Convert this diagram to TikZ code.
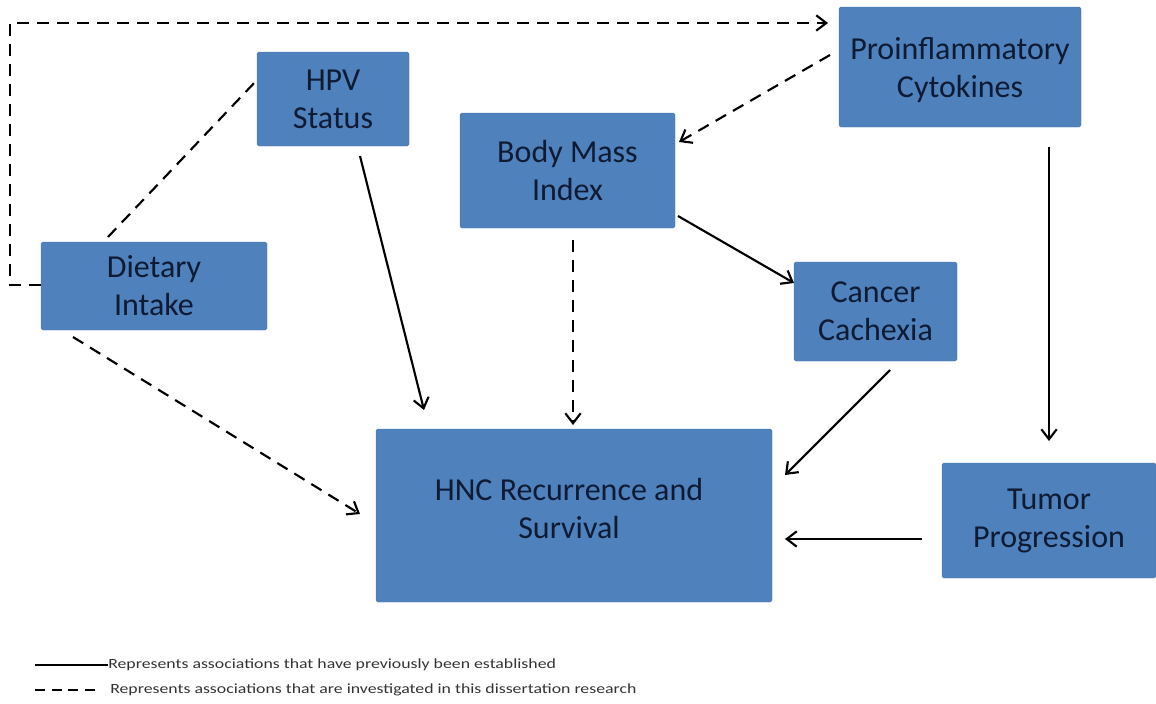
\documentclass[tikz,border=0pt]{standalone}
\usepackage{fontspec}
\setmainfont{Carlito}
\newfontfamily\legendfont[FakeStretch=1.27]{Carlito}
\usetikzlibrary{arrows.meta}
\definecolor{boxblue}{HTML}{4F81BD}
\definecolor{boxtext}{HTML}{0F1A33}
\definecolor{legtext}{HTML}{333333}
\tikzset{
  box/.style={rectangle, fill=boxblue, draw=boxblue!92!black, line width=0.3pt,
    rounded corners=1.2pt, inner sep=0pt, align=center, text=boxtext,
    font=\fontsize{24}{28.5}\selectfont},
  boxlabel/.style={anchor=center, inner sep=0pt, align=center, text=boxtext,
    font=\fontsize{24}{28.5}\selectfont},
  bw/.style={minimum width=#1*0.75pt},
  bh/.style={minimum height=#1*0.75pt},
  conn/.style={line width=1.6pt, black},
  solidarrow/.style={conn, -{Straight Barb[length=7.5pt,width=11.5pt]}},
  dashline/.style={conn, dash pattern=on 9pt off 6pt},
  dasharrow/.style={dashline, -{Straight Barb[length=7.5pt,width=11.5pt]}},
  legline/.style={line width=1.1pt, black},
  legtxt/.style={anchor=west, inner sep=0pt, text=legtext,
    font=\legendfont\fontsize{10.5}{12}\selectfont}
}
\begin{document}
\begin{tikzpicture}[x=0.75pt, y=-0.75pt]
\useasboundingbox (0,0) rectangle (1156,703);

% boxes
\node[box, bw=152, bh=94]  (hpv)  at (333,99)     {HPV\\Status};
\node[box, bw=226, bh=88]  (diet) at (154,286)    {Dietary\\Intake};
\node[box, bw=215, bh=115] (bmi)  at (567.5,170.5){Body Mass\\Index};
\node[box, bw=242, bh=120] (pro)  at (960,67)     {};
\node[boxlabel] (protxt) at (960,70) {Proinflammatory\\Cytokines};
\node[box, bw=163, bh=99]  (cach) at (875.5,311.5){Cancer\\Cachexia};
\node[box, bw=396, bh=173] (hnc)  at (574,515.5)  {};
\node[boxlabel] (hnctxt) at (569,509) {HNC Recurrence and\\Survival};
\node[box, bw=214, bh=115] (tum)  at (1049,520.5) {Tumor\\Progression};

% connector end points
\coordinate (dietL)   at (41,285);
\coordinate (c1)      at (10,285);
\coordinate (c2)      at (10,23);
\coordinate (proIn1)  at (828,23);
\coordinate (dietT)   at (108,237);
\coordinate (hpvL)    at (257,80);
\coordinate (proOut)  at (830,55);
\coordinate (bmiIn)   at (679,142);
\coordinate (hpvOut)  at (360,156);
\coordinate (hncIn1)  at (424,410);
\coordinate (bmiOut1) at (573,240);
\coordinate (hncIn2)  at (573,425);
\coordinate (bmiOut2) at (678,216);
\coordinate (cachIn)  at (794,283);
\coordinate (proOut2) at (1049,147);
\coordinate (tumIn)   at (1049,441);
\coordinate (cachOut) at (890,370);
\coordinate (hncIn3)  at (785,475);
\coordinate (tumOut)  at (922,539);
\coordinate (hncIn4)  at (785,539);
\coordinate (dietB)   at (73,337);
\coordinate (hncIn5)  at (360,514);

% connectors
\draw[dasharrow] (dietL) -- (c1) -- (c2) -- (proIn1);
\draw[dashline] (dietT) -- (hpvL);
\draw[dasharrow] (proOut) -- (bmiIn);
\draw[solidarrow] (hpvOut) -- (hncIn1);
\draw[dasharrow] (bmiOut1) -- (hncIn2);
\draw[solidarrow] (bmiOut2) -- (cachIn);
\draw[solidarrow] (proOut2) -- (tumIn);
\draw[solidarrow] (cachOut) -- (hncIn3);
\draw[solidarrow] (tumOut) -- (hncIn4);
\draw[dasharrow] (dietB) -- (hncIn5);

% legend
\coordinate (l1a) at (35,665);
\coordinate (l1b) at (108,665);
\coordinate (l2a) at (35,690);
\coordinate (l2b) at (101,690);
\draw[legline] (l1a) -- (l1b);
\draw[legline, dash pattern=on 7.5pt off 5pt] (l2a) -- (l2b);
\node[legtxt] (leg1) at (108,665) {Represents associations that have previously been established};
\node[legtxt] (leg2) at (110,690) {Represents associations that are investigated in this dissertation research};
\end{tikzpicture}
\end{document}
